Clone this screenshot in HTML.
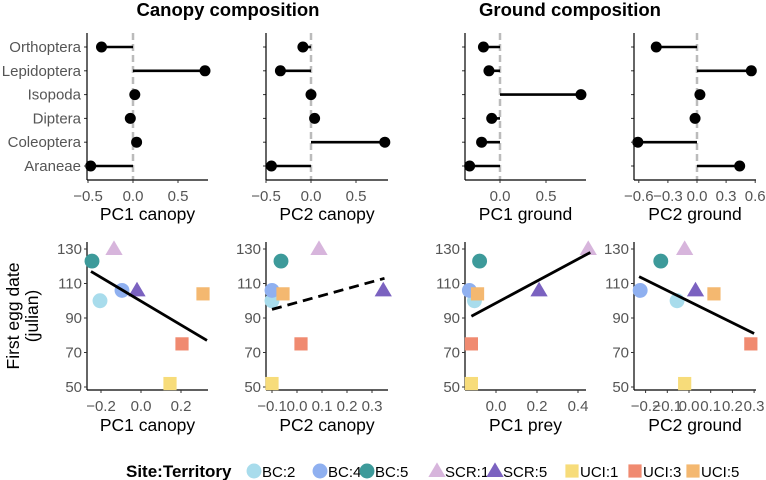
<!DOCTYPE html>
<html><head><meta charset="utf-8"><style>
body{margin:0;background:#fff}
svg{display:block;font-family:"Liberation Sans",sans-serif}
</style></head><body>
<svg id="c" width="766" height="480"></svg>
<script>
const taxa=["Orthoptera","Lepidoptera","Isopoda","Diptera","Coleoptera","Araneae"];
const pc1Canopy=[-0.35,0.8,0.02,-0.03,0.04,-0.47];
const pc2Canopy=[-0.09,-0.34,0.0,0.04,0.82,-0.44];
const pc1Ground=[-0.18,-0.12,0.88,-0.09,-0.2,-0.33];
const pc2Ground=[-0.42,0.56,0.03,-0.02,-0.61,0.44];
const sites=["BC:2","BC:4","BC:5","SCR:1","SCR:5","UCI:1","UCI:3","UCI:5"];
const eggDate=[100,106,123,130,106,52,75,104];
const xPC1Canopy=[-0.205,-0.095,-0.245,-0.135,-0.02,0.145,0.205,0.31];
const xPC2Canopy=[-0.1,-0.1,-0.064,0.088,0.345,-0.1,0.016,-0.056];
const xPC1Prey=[-0.105,-0.13,-0.08,0.45,0.21,-0.12,-0.12,-0.09];
const xPC2Ground=[-0.055,-0.225,-0.13,-0.02,0.03,-0.02,0.285,0.115];
const fit1=[[-0.25,117],[0.33,77]];
const fit2=[[-0.1,95],[0.35,113]];
const fit3=[[-0.12,91],[0.46,128]];
const fit4=[[-0.23,114],[0.3,81]];
const yTicks=[50,70,90,110,130];
const colors=["#a8dcec","#8fb0f0","#3d9a9a","#d7b5dc","#7b62c0","#f7dc7a","#f08a70","#f4b870"];
const shapes=["c","c","c","t","t","s","s","s"];

const svg=document.getElementById('c');const NS="http://www.w3.org/2000/svg";
function el(t,a,p){const e=document.createElementNS(NS,t);for(const k in a)e.setAttribute(k,a[k]);(p||svg).appendChild(e);return e;}
function txt(s,a,p){const e=el('text',a,p);e.textContent=s;return e;}

let t=txt("Canopy composition",{x:228,y:16,'text-anchor':'middle','font-size':18.5,'font-weight':'bold'});

t=txt("Ground composition",{x:570,y:16,'text-anchor':'middle','font-size':18.5,'font-weight':'bold'});


function lollipop(name,axX,right,zeroX,ppu,vals,ticks,tickLbl,title,showLabels){
 const g=el('g',{});
 
 
 const top=33,bot=180,rowY=i=>47+i*23.8;
 const sx=v=>zeroX+v*ppu;
 el('line',{x1:sx(0),x2:sx(0),y1:top,y2:bot,stroke:'#bbb','stroke-width':2.5,'stroke-dasharray':'7,4'},g);
 vals.forEach((v,i)=>{
  const l=el('line',{x1:sx(0),x2:sx(v),y1:rowY(i),y2:rowY(i),stroke:'#000','stroke-width':2.6},g);
  
  
  const c=el('circle',{cx:sx(v),cy:rowY(i),r:5.5,fill:'#000'},g);
  
  
  el('line',{x1:axX-3,x2:axX,y1:rowY(i),y2:rowY(i),stroke:'#333','stroke-width':1},g);
  if(showLabels){const tt=txt(taxa[i],{x:axX-6,y:rowY(i)+5,'text-anchor':'end','font-size':15,fill:'#555'},g);
   }
 });
 el('line',{x1:axX,x2:axX,y1:top,y2:bot,stroke:'#000','stroke-width':1.2},g);
 el('line',{x1:axX,x2:right,y1:bot,y2:bot,stroke:'#000','stroke-width':1.2},g);
 ticks.forEach((tk,i)=>{
  el('line',{x1:sx(tk),x2:sx(tk),y1:bot,y2:bot+3,stroke:'#333'},g);
  const l=txt(tickLbl[i],{x:sx(tk),y:bot+21,'text-anchor':'middle','font-size':15,fill:'#555'},g);
  
 });
 const at=txt(title,{x:(axX+right)/2,y:bot+40,'text-anchor':'middle','font-size':17.5},g);
 
}
lollipop('pc1-canopy-loadings',87,208,133,90,pc1Canopy,[-0.5,0,0.5],["−0.5","0.0","0.5"],"PC1 canopy",true);
lollipop('pc2-canopy-loadings',266,388,311,90,pc2Canopy,[-0.5,0,0.5],["−0.5","0.0","0.5"],"PC2 canopy",false);
lollipop('pc1-ground-loadings',465,586,500,92,pc1Ground,[0,0.5],["0.0","0.5"],"PC1 ground",false);
lollipop('pc2-ground-loadings',634,756,697,97,pc2Ground,[-0.6,-0.3,0,0.3,0.6],["−0.6","−0.3","0.0","0.3","0.6"],"PC2 ground",false);

function marker(shape,x,y,col,s,p){
 if(shape==='c')return el('circle',{cx:x,cy:y,r:s*0.62,fill:col},p);
 if(shape==='t')return el('polygon',{points:`${x},${y-s*0.72} ${x-s*0.72},${y+s*0.5} ${x+s*0.72},${y+s*0.5}`,fill:col},p);
 return el('rect',{x:x-s*0.55,y:y-s*0.55,width:s*1.1,height:s*1.1,fill:col},p);
}
function scatter(name,axX,right,zeroX,ppu,xs,ticks,tickLbl,title,fit,dashed){
 const g=el('g',{});
 
 
 const top=242,bot=390;
 const sx=v=>zeroX+v*ppu, sy=v=>387-(v-50)*(138/80);
 el('line',{x1:axX,x2:axX,y1:top,y2:bot,stroke:'#000','stroke-width':1.2},g);
 el('line',{x1:axX,x2:right,y1:bot,y2:bot,stroke:'#000','stroke-width':1.2},g);
 yTicks.forEach(tk=>{
  el('line',{x1:axX-3,x2:axX,y1:sy(tk),y2:sy(tk),stroke:'#333'},g);
  const l=txt(String(tk),{x:axX-5,y:sy(tk)+5,'text-anchor':'end','font-size':15,fill:'#555'},g);
  
 });
 ticks.forEach((tk,i)=>{
  el('line',{x1:sx(tk),x2:sx(tk),y1:bot,y2:bot+3,stroke:'#333'},g);
  const l=txt(tickLbl[i],{x:sx(tk),y:bot+21,'text-anchor':'middle','font-size':15,fill:'#555'},g);
  
 });
 xs.forEach((v,i)=>{
  const m=marker(shapes[i],sx(v),sy(eggDate[i]),colors[i],12,g);
  
  
 });
 const fl=el('line',{x1:sx(fit[0][0]),y1:sy(fit[0][1]),x2:sx(fit[1][0]),y2:sy(fit[1][1]),stroke:'#000','stroke-width':2.8},g);
 if(dashed)fl.setAttribute('stroke-dasharray','10,6');
 
 
 const at=txt(title,{x:(axX+right)/2,y:bot+41,'text-anchor':'middle','font-size':17.5},g);
 
}
scatter('scatter-pc1-canopy',87,208,141,200,xPC1Canopy,[-0.2,0,0.2],["−0.2","0.0","0.2"],"PC1 canopy",fit1,false);
scatter('scatter-pc2-canopy',266,388,297,250,xPC2Canopy,[-0.1,0,0.1,0.2,0.3],["−0.1","0.0","0.1","0.2","0.3"],"PC2 canopy",fit2,true);
scatter('scatter-pc1-prey',465,586,496,205,xPC1Prey,[0,0.2,0.4],["0.0","0.2","0.4"],"PC1 prey",fit3,false);
scatter('scatter-pc2-ground',634,756,689,217,xPC2Ground,[-0.2,-0.1,0,0.1,0.2,0.3],["−0.2","−0.1","0.0","0.1","0.2","0.3"],"PC2 ground",fit4,false);

const yt=txt("",{transform:'translate(22,316) rotate(-90)','text-anchor':'middle','font-size':17.5});

el('tspan',{x:0,dy:-3},yt).textContent="First egg date";
el('tspan',{x:0,dy:19},yt).textContent="(julian)";

const lg=el('g',{});


txt("Site:Territory",{x:126,y:477,'font-size':17,'font-weight':'bold'},lg);
const lx=[254,320,367,437,495,572,635,693];
sites.forEach((s,i)=>{
 const e=el('g',{},lg);
 
 
 marker(shapes[i],lx[i],471,colors[i],12,e);
 txt(s,{x:lx[i]+8,y:477,'font-size':15},e);
});
</script>
</body></html>
